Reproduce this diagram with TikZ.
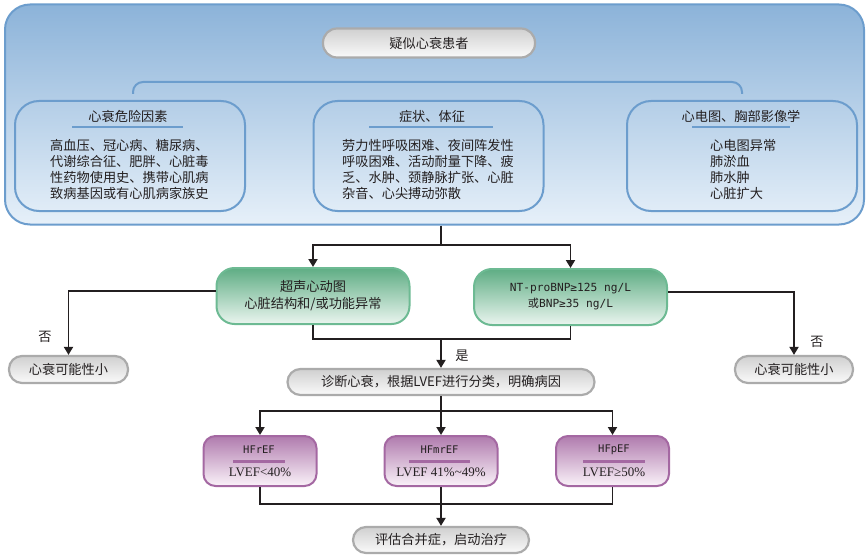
\documentclass[tikz,border=0pt]{standalone}
\usepackage{fontspec}
\setmainfont{Noto Sans CJK SC}
\newfontfamily\monof{DejaVu Sans Mono}
\newfontfamily\seriff{Liberation Serif}
\usetikzlibrary{arrows.meta}
\definecolor{ink}{HTML}{231F20}
\definecolor{blueA}{HTML}{8CB3D9}
\definecolor{blueB}{HTML}{E6F0F9}
\definecolor{blueL}{HTML}{6C9DCD}
\definecolor{greenA}{HTML}{5FAD84}
\definecolor{greenB}{HTML}{EAF5EF}
\definecolor{greenL}{HTML}{6DBA93}
\definecolor{purA}{HTML}{B07BAE}
\definecolor{purB}{HTML}{FAF2F9}
\definecolor{purL}{HTML}{A468A2}
\definecolor{grayA}{HTML}{D0D0D0}
\definecolor{grayB}{HTML}{FAFAFA}
\definecolor{grayL}{HTML}{ABABAB}
\begin{document}
\begin{tikzpicture}[x=1pt,y=-1pt,
  txt/.style={font=\fontsize{13.2}{15.7}\selectfont, text=ink, inner sep=0pt},
  monotxt/.style={font=\monof\fontsize{10.5}{13}\selectfont, text=ink, inner sep=0pt},
  sertxt/.style={font=\seriff\fontsize{13}{14}\selectfont, text=ink, inner sep=0pt},
  outerbox/.style={draw=blueL, line width=2pt, rounded corners=25pt, top color=blueA, bottom color=blueB, minimum width=859pt, minimum height=220pt},
  groupbox/.style={draw=blueL, line width=2pt, rounded corners=24pt, minimum width=230pt, minimum height=110pt},
  pill/.style={txt, draw=grayL, line width=2.2pt, rounded corners=13pt, top color=grayA, bottom color=grayB, minimum height=27pt},
  greenbox/.style={txt, draw=greenL, line width=2pt, rounded corners=18pt, top color=greenA, bottom color=greenB, minimum width=193pt, minimum height=56pt, align=center},
  purbox/.style={draw=purL, line width=2pt, rounded corners=12pt, top color=purA, bottom color=purB, minimum width=113pt, minimum height=50pt},
  line/.style={draw=ink, line width=1.8pt},
  arr/.style={line, -{Triangle[length=8pt,width=9pt]}},
  hrule/.style={draw=blueL, line width=2pt},
  prule/.style={draw=purL, line width=3pt},
]
\useasboundingbox (0,0) rectangle (868,559);

% top panel
\node[outerbox] (outer) at (434.5,114.5) {};
\node[pill, minimum width=212pt, minimum height=29pt, rounded corners=14pt] (suspect) at (429,43) {疑似心衰患者};
\coordinate (brL) at (133,94);
\coordinate (brR) at (742,94);
\draw[hrule, rounded corners=10pt] (brL) -- (133,82) -- (742,82) -- (brR);

\node[groupbox] (risk) at (130,156) {};
\node[groupbox] (sym) at (428.5,156) {};
\node[groupbox] (img) at (742,156) {};

\node[txt] (riskT) at (128,116) {心衰危险因素};
\node[txt] (symT) at (432,116) {症状、体征};
\node[txt] (imgT) at (741,116) {心电图、胸部影像学};
\draw[hrule] (72,127) -- (183,127);
\draw[hrule] (369,127) -- (493,127);
\draw[hrule] (692,127) -- (790,127);

\node[txt, anchor=west, align=left] (riskB) at (50,169.5) {高血压、冠心病、糖尿病、\\代谢综合征、肥胖、心脏毒\\性药物使用史、携带心肌病\\致病基因或有心肌病家族史};
\node[txt, anchor=west, align=left] (symB) at (342,169.5) {劳力性呼吸困难、夜间阵发性\\呼吸困难、活动耐量下降、疲\\乏、水肿、颈静脉扩张、心脏\\杂音、心尖搏动弥散};
\node[txt, anchor=west, align=left] (imgB) at (710,169.5) {心电图异常\\肺淤血\\肺水肿\\心脏扩大};

% tests
\node[greenbox, font=\fontsize{13.2}{17}\selectfont] (echo) at (313,296) {超声心动图\\心脏结构和/或功能异常};
\node[greenbox, font=\monof\fontsize{11.2}{16}\selectfont] (bnp) at (570.5,297) {NT-proBNP≥125 ng/L\\{\rmfamily 或}BNP≥35 ng/L};

\node[txt] (noLlab) at (45,337) {否};
\node[txt] (noRlab) at (817,342) {否};
\node[txt] (yes) at (462,356) {是};
\node[pill, minimum width=119pt] (noL) at (68.5,369.5) {心衰可能性小};
\node[pill, minimum width=118pt] (noR) at (794,369.5) {心衰可能性小};
\node[pill, minimum width=307pt, minimum height=26pt] (diag) at (441,382) {诊断心衰，根据LVEF进行分类，明确病因};

% classes
\node[purbox] (hfr) at (260,461) {};
\node[purbox] (hfm) at (441,461) {};
\node[purbox] (hfp) at (612.5,461) {};
\node[monotxt] (hfrT) at (259,450) {HFrEF};
\node[monotxt] (hfmT) at (439.5,450) {HFmrEF};
\node[monotxt] (hfpT) at (614,450) {HFpEF};
\draw[prule] (233,461) -- (285,461);
\draw[prule] (409,461) -- (470,461);
\draw[prule] (583,461) -- (645,461);
\node[sertxt] (hfrV) at (260,472) {LVEF<40\%};
\node[sertxt] (hfmV) at (441,472) {LVEF 41\%\textasciitilde 49\%};
\node[sertxt] (hfpV) at (614,472) {LVEF≥50\%};

\node[pill, minimum width=176pt, minimum height=26pt] (final) at (441,540) {评估合并症，启动治疗};

% connectors
\coordinate (j1) at (441,245);
\draw[line] (outer.south -| j1) -- (j1);
\draw[arr] (j1) -| (echo.north);
\draw[arr] (j1) -| (bnp.north);
\draw[arr] ([yshift=5pt]echo.west) -| (noL.north);
\draw[arr] ([yshift=5pt]bnp.east) -| (noR.north);
\coordinate (j2) at (441,339);
\draw[line] (echo.south) |- (bnp.south |- j2) -- (bnp.south);
\draw[arr] (j2) -- (diag.north);
\coordinate (j3) at (441,411);
\draw[line] (diag.south) -- (j3);
\draw[arr] (j3) -| (hfr.north);
\draw[arr] (j3) -| (hfp.north);
\draw[arr] (j3) -- (hfm.north);
\coordinate (j4) at (441,504);
\draw[line] (hfr.south) |- (hfp.south |- j4) -- (hfp.south);
\draw[arr] (hfm.south) -- (final.north);
\end{tikzpicture}
\end{document}
